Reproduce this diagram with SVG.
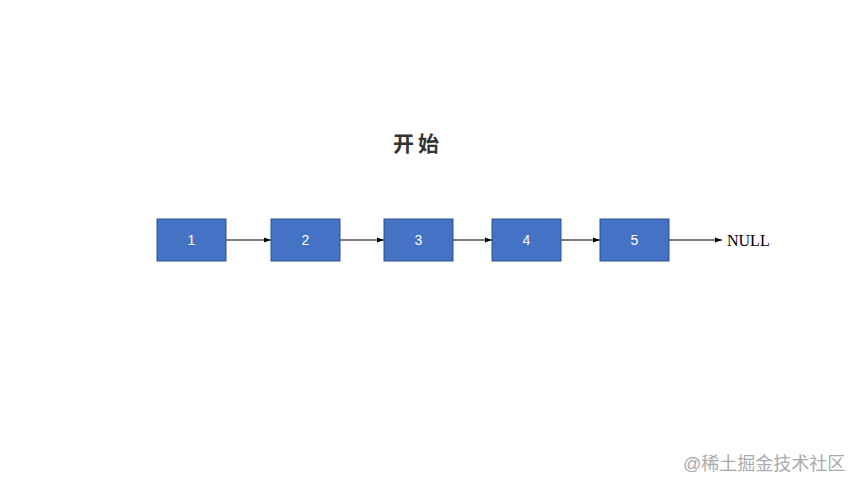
<svg xmlns="http://www.w3.org/2000/svg" width="853" height="480" viewBox="0 0 853 480">
<style>
.box{fill:#4472C4;stroke:#2F528F;stroke-width:1}
.lbl{font-family:"Liberation Sans",Arial,sans-serif;font-size:14px;fill:#ffffff;text-anchor:middle;dominant-baseline:central}
.con{stroke:#000;stroke-width:1;fill:none;marker-end:url(#ah)}
</style>
<defs>
<marker id="ah" markerWidth="8" markerHeight="6" refX="7" refY="3" orient="auto" markerUnits="userSpaceOnUse">
<path d="M0,0.5 L7,3 L0,5.5 Z" fill="#000"/>
</marker>
</defs>
<rect width="853" height="480" fill="#ffffff"/>
<text x="418" y="142" font-family="'Noto Sans CJK SC',sans-serif" font-size="21" font-weight="bold" fill="#333" text-anchor="middle" dominant-baseline="central" letter-spacing="4">开始</text>
<g id="connectors">
<line class="con" x1="226" y1="240" x2="271" y2="240"/>
<line class="con" x1="340" y1="240" x2="384" y2="240"/>
<line class="con" x1="453" y1="240" x2="492" y2="240"/>
<line class="con" x1="561" y1="240" x2="600" y2="240"/>
<line class="con" x1="669" y1="240" x2="722" y2="240"/>
</g>
<g id="n1"><rect class="box" x="157" y="219" width="69" height="42"/><text class="lbl" x="191.5" y="240">1</text></g>
<g id="n2"><rect class="box" x="271" y="219" width="69" height="42"/><text class="lbl" x="305.5" y="240">2</text></g>
<g id="n3"><rect class="box" x="384" y="219" width="69" height="42"/><text class="lbl" x="418.5" y="240">3</text></g>
<g id="n4"><rect class="box" x="492" y="219" width="69" height="42"/><text class="lbl" x="526.5" y="240">4</text></g>
<g id="n5"><rect class="box" x="600" y="219" width="69" height="42"/><text class="lbl" x="634.5" y="240">5</text></g>
<g id="null"><text x="727" y="240" font-family="'Liberation Serif','Times New Roman',serif" font-size="16" fill="#000" dominant-baseline="central">NULL</text></g>
<text x="683" y="464" font-family="'Liberation Sans','Noto Sans CJK SC',sans-serif" font-size="18" fill="#aaaaaa" dominant-baseline="central">@稀土掘金技术社区</text>
</svg>
